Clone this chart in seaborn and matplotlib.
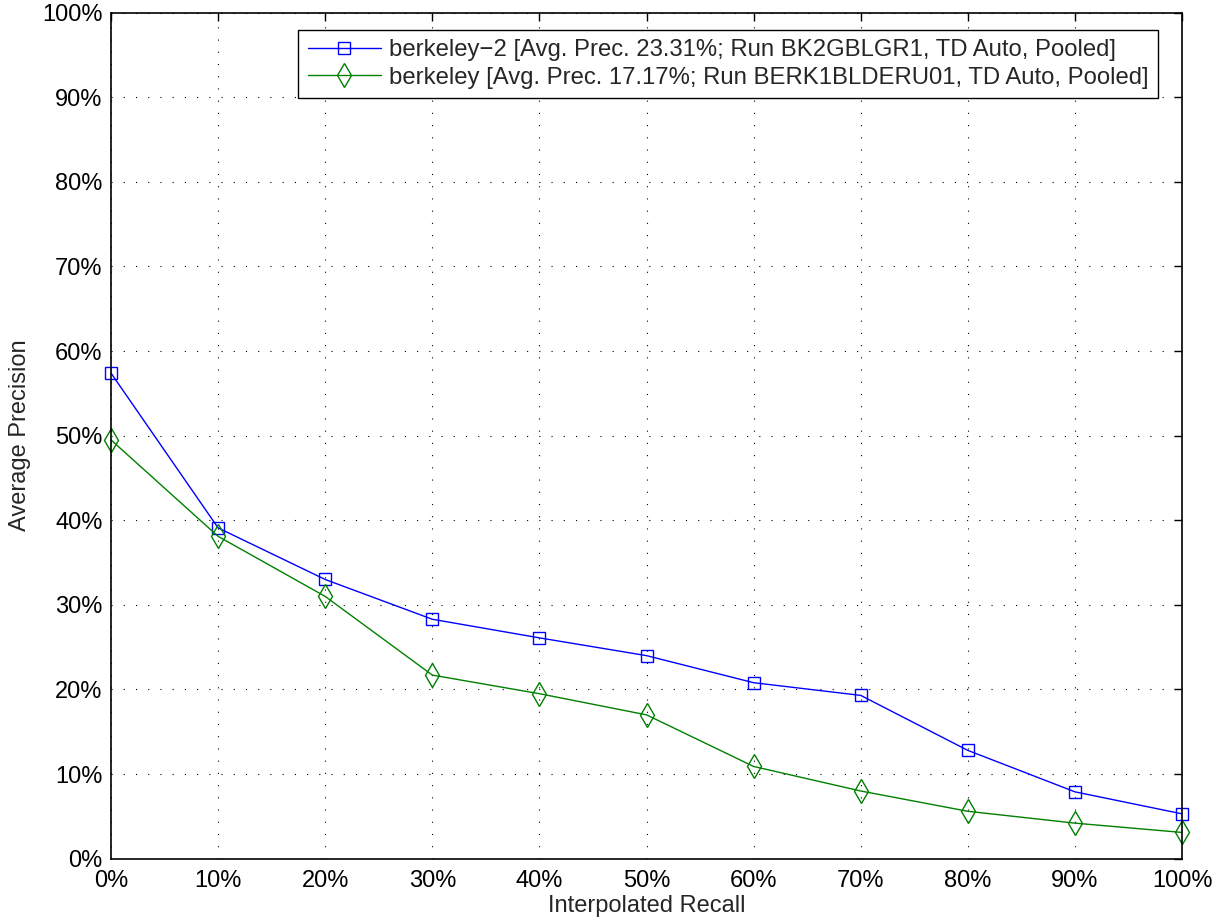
import matplotlib
matplotlib.use("Agg")
import matplotlib.pyplot as plt
import seaborn as sns
import pandas as pd
from matplotlib.ticker import FuncFormatter
from matplotlib.lines import Line2D

recall = [0, 10, 20, 30, 40, 50, 60, 70, 80, 90, 100]
berkeley2 = [57.4, 39.1, 33.0, 28.3, 26.1, 24.0, 20.8, 19.3, 12.8, 7.9, 5.3]
berkeley = [49.5, 38.1, 31.0, 21.7, 19.5, 17.0, 10.9, 8.0, 5.6, 4.2, 3.1]
labels = [
    "berkeley\u22122 [Avg. Prec. 23.31%; Run BK2GBLGR1, TD Auto, Pooled]",
    "berkeley [Avg. Prec. 17.17%; Run BERK1BLDERU01, TD Auto, Pooled]",
]

sns.set_theme(style="white")
plt.rcParams['font.family'] = ['Liberation Sans', 'DejaVu Sans']

df = pd.concat([
    pd.DataFrame({"recall": recall, "prec": berkeley2, "run": labels[0]}),
    pd.DataFrame({"recall": recall, "prec": berkeley, "run": labels[1]}),
])

fig = plt.figure(figsize=(12.21, 9.24), dpi=100)
ax = fig.add_axes([0.0909, 0.0707, 0.8772, 0.9156])

SQ, DI = 9, 12.5
sns.lineplot(data=df, x="recall", y="prec", hue="run", style="run",
             palette=["#0000ff", "#008000"], markers=["s", "d"], dashes=False,
             linewidth=1.0, ax=ax, legend=False)
for line, ms in zip(ax.lines, [SQ, DI]):
    line.set_markeredgecolor(line.get_color())
    line.set_markerfacecolor("none")
    line.set_markeredgewidth(1.0)
    line.set_markersize(ms)
    line.set_clip_on(False)

handles = [Line2D([], [], color="#0000ff", marker="s", markersize=SQ, markerfacecolor="none", lw=1.0),
           Line2D([], [], color="#008000", marker="d", markersize=DI, markerfacecolor="none", lw=1.0)]
leg = ax.legend(handles, labels, loc="upper right", bbox_to_anchor=(0.9776, 0.9796),
                fontsize=17.2, frameon=True, fancybox=False, edgecolor="black",
                handlelength=3.05, borderpad=0.4, labelspacing=0.22, handletextpad=0.35,
                borderaxespad=0)
leg.get_frame().set_linewidth(1.0)
leg.get_frame().set_alpha(1.0)

ax.set_xlim(0, 100)
ax.set_ylim(0, 100)
ax.set_xticks(range(0, 101, 10))
ax.set_yticks(range(0, 101, 10))
fmt = FuncFormatter(lambda v, p: f"{int(v)}%")
ax.xaxis.set_major_formatter(fmt)
ax.yaxis.set_major_formatter(fmt)
ax.grid(True, color="black", linestyle=(0, (1, 10)), linewidth=0.8)
ax.tick_params(direction="in", top=True, right=True, length=6, width=1, labelsize=17, colors="black")
ax.tick_params(axis="x", pad=8)
ax.tick_params(axis="y", pad=6)
for s in ax.spines.values():
    s.set_color("black")
    s.set_linewidth(1.2)
ax.set_xlabel("Interpolated Recall", fontsize=17, labelpad=2)
ax.set_ylabel("Average Precision", fontsize=17, labelpad=8)

fig.savefig("out.png", dpi=100)
